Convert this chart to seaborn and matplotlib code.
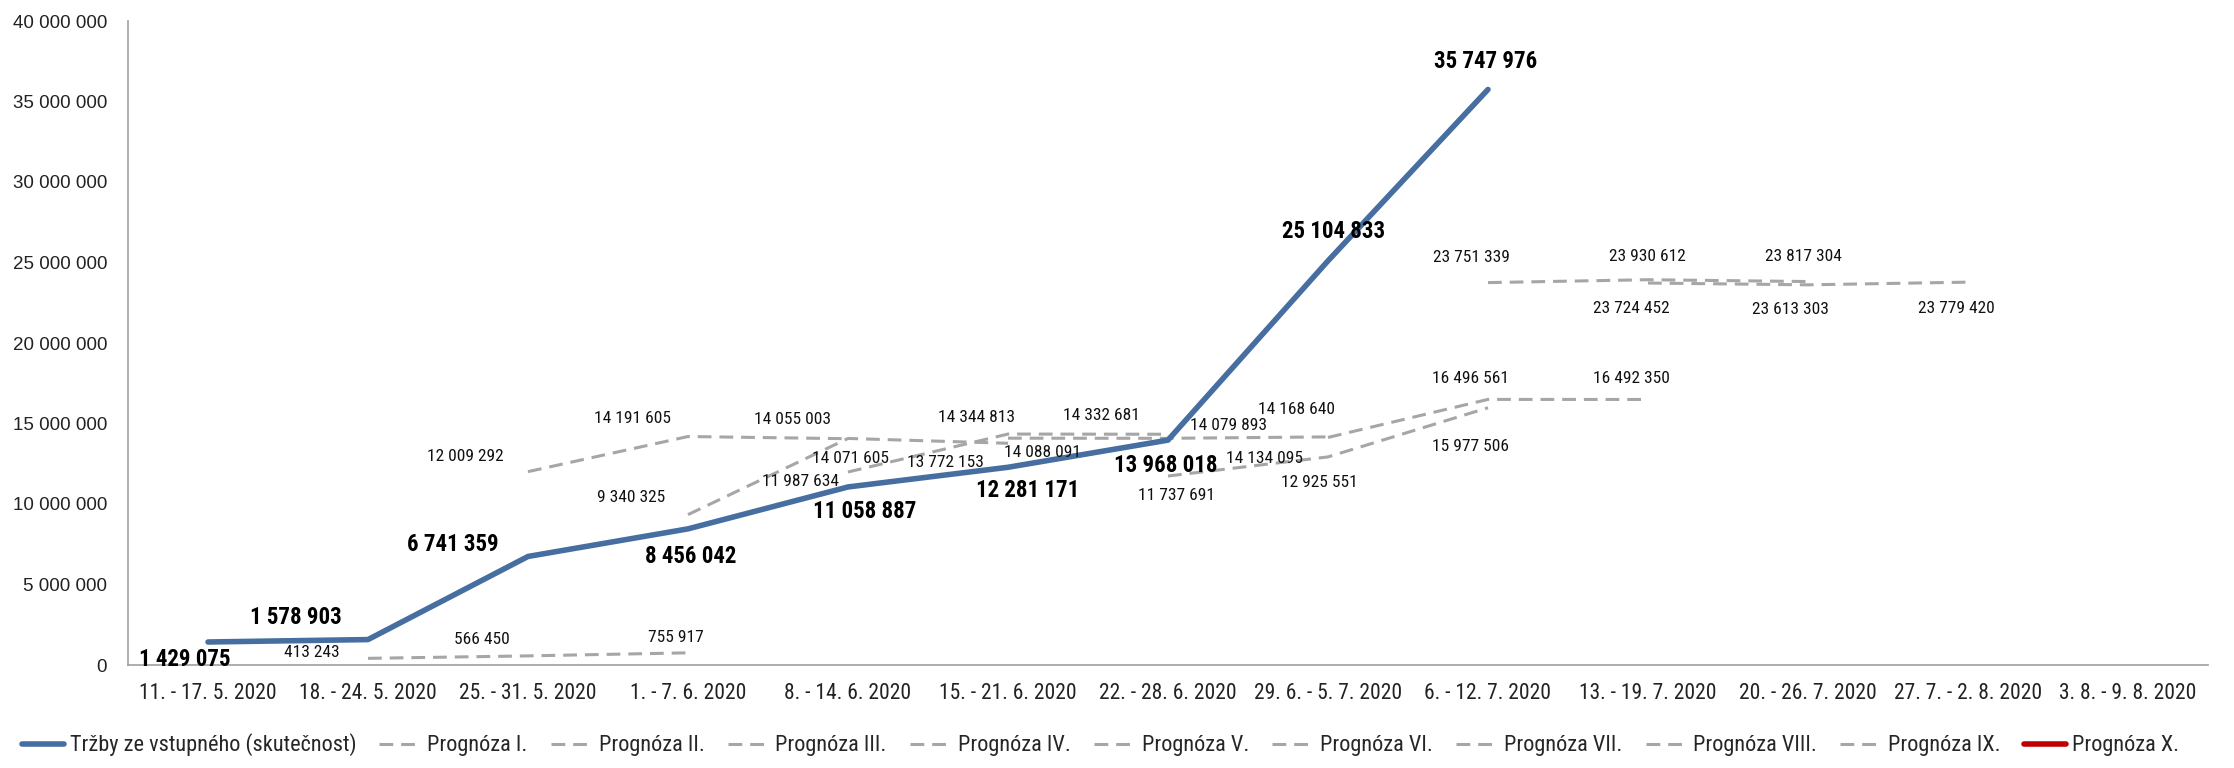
import numpy as np
import pandas as pd
import seaborn as sns
import matplotlib.pyplot as plt
from matplotlib import font_manager as fm
from matplotlib.ticker import FuncFormatter, FixedLocator

# Data
weeks = ['11. - 17. 5. 2020', '18. - 24. 5. 2020', '25. - 31. 5. 2020', '1. - 7. 6. 2020',
         '8. - 14. 6. 2020', '15. - 21. 6. 2020', '22. - 28. 6. 2020', '29. 6. - 5. 7. 2020',
         '6. - 12. 7. 2020', '13. - 19. 7. 2020', '20. - 26. 7. 2020', '27. 7. - 2. 8. 2020',
         '3. 8. - 9. 8. 2020']

actual_name = 'Tržby ze vstupného (skutečnost)'
actual = [1429075, 1578903, 6741359, 8456042, 11058887, 12281171, 13968018, 25104833, 35747976]

forecast_names = ['Prognóza I.', 'Prognóza II.', 'Prognóza III.', 'Prognóza IV.', 'Prognóza V.',
                  'Prognóza VI.', 'Prognóza VII.', 'Prognóza VIII.', 'Prognóza IX.']
# week index where each forecast starts (each covers three weeks)
forecast_start = [1, 2, 3, 4, 5, 6, 7, 8, 9]
prognoza_1 = [413243, 566450, 755917]
prognoza_2 = [12009292, 14191605, 14055003]
prognoza_3 = [9340325, 14071605, 13772153]
prognoza_4 = [11987634, 14344813, 14332681]
prognoza_5 = [14088091, 14079893, 14168640]
prognoza_6 = [11737691, 12925551, 15977506]
prognoza_7 = [14134095, 16496561, 16492350]
prognoza_8 = [23751339, 23930612, 23817304]
prognoza_9 = [23724452, 23613303, 23779420]
forecasts = [prognoza_1, prognoza_2, prognoza_3, prognoza_4, prognoza_5,
             prognoza_6, prognoza_7, prognoza_8, prognoza_9]
last_name = 'Prognóza X.'

# label offsets in pixels (dx, dy up)
actual_offsets = [(-23, -18), (-72, 22), (-75, 12), (3, -28), (17, -25), (20, -23), (-2, -25),
                  (6, 29), (-2, 28)]
forecast_offsets = [
    [(-56, 6), (-46, 16), (-12, 15)],
    [(-63, 15), (-55, 18), (-55, 19)],
    [(-57, 17), (3, -20), (-63, -19)],
    [(-48, -10), (-32, 17), (-67, 19)],
    [(35, -14), (61, 13), (-32, 27)],
    [(9, -19), (-9, -26), (-17, -39)],
    [(-63, -21), (-17, 21), (-17, 21)],
    [(-17, 25), (-1, 23), (-5, 25)],
    [(-17, -25), (-18, -25), (-12, -26)],
]

blue = '#466EA0'
gray = '#A6A6A6'
red = '#C00000'
axis_gray = '#A0A0A0'

sns.set_style('white')
plt.rcParams['font.family'] = ['Liberation Sans', 'DejaVu Sans']

# pick an Arial Narrow-like family that has a bold face
bold_names = {f.name for f in fm.fontManager.ttflist if f.weight in (700, 'bold')}
narrow_family = None
for cand in ['Liberation Sans Narrow', 'Arial Narrow', 'Nimbus Sans Narrow', 'Roboto Condensed',
             'PT Sans Narrow', 'Barlow Semi Condensed', 'Archivo Narrow']:
    if cand in bold_names:
        narrow_family = cand
        break
if narrow_family:
    narrow = [narrow_family, 'Liberation Sans', 'DejaVu Sans']
    k = 1.0
else:
    narrow = ['Liberation Sans', 'DejaVu Sans']
    k = 0.84


def fmt(v):
    return f'{v:,.0f}'.replace(',', ' ')


fig = plt.figure(figsize=(22.34, 7.68), dpi=100)
ax = fig.add_axes([128 / 2234, 1 - 665 / 768, 2080 / 2234, 644 / 768])

df_actual = pd.DataFrame({'week': np.arange(len(actual)), 'value': actual})
sns.lineplot(data=df_actual, x='week', y='value', ax=ax, color=blue, linewidth=4,
             label=actual_name, legend=False, zorder=5)

for name, start, vals, offs in zip(forecast_names, forecast_start, forecasts, forecast_offsets):
    xs = np.arange(start, start + len(vals))
    sns.lineplot(x=xs, y=vals, ax=ax, color=gray, linewidth=2.2, linestyle=(0, (4.5, 2.6)),
                 label=name, legend=False, zorder=3)
    for x, v, (dx, dy) in zip(xs, vals, offs):
        ax.annotate(fmt(v), (x, v), xytext=(dx, dy), textcoords='offset pixels',
                    ha='center', va='center', fontsize=12.5 * k, family=narrow,
                    color='#111111', zorder=6)

for x, v, (dx, dy) in zip(range(len(actual)), actual, actual_offsets):
    ax.annotate(fmt(v), (x, v), xytext=(dx, dy), textcoords='offset pixels',
                ha='center', va='center', fontsize=16.5 * k, fontweight='bold', family=narrow,
                color='#000000', zorder=7)

ax.plot([], [], color=red, linewidth=4, label=last_name)

# axes
ax.set_xlim(-0.5, len(weeks) - 0.5)
ax.set_ylim(0, 40_000_000)
ax.set_yticks(np.arange(0, 40_000_001, 5_000_000))
ax.yaxis.set_major_formatter(FuncFormatter(lambda v, p: fmt(v)))
ax.xaxis.set_major_locator(FixedLocator(np.arange(-0.5, len(weeks), 1.0)))
ax.xaxis.set_minor_locator(FixedLocator(np.arange(len(weeks))))
ax.set_xticklabels([], minor=False)
ax.set_xticklabels(weeks, minor=True, fontsize=15.5 * k, family=narrow, color='#222222')
ax.tick_params(axis='x', which='major', length=6, width=1.2, color=axis_gray, direction='out')
ax.tick_params(axis='x', which='minor', length=0, pad=13)
ax.tick_params(axis='y', length=6, width=1.2, color=axis_gray, direction='out', pad=9,
               labelsize=13.5, labelcolor='#222222')
ax.set_xlabel('')
ax.set_ylabel('')
for s in ['top', 'right']:
    ax.spines[s].set_visible(False)
for s in ['left', 'bottom']:
    ax.spines[s].set_color(axis_gray)
    ax.spines[s].set_linewidth(1.2)

handles, labels = ax.get_legend_handles_labels()
fig.legend(handles, labels, loc='center', bbox_to_anchor=(0.4925, 0.03), ncol=len(labels),
           frameon=False, handlelength=1.9, handletextpad=0.25, columnspacing=1.05,
           prop={'family': narrow, 'size': 16 * k})

fig.savefig('out.png', dpi=100)
